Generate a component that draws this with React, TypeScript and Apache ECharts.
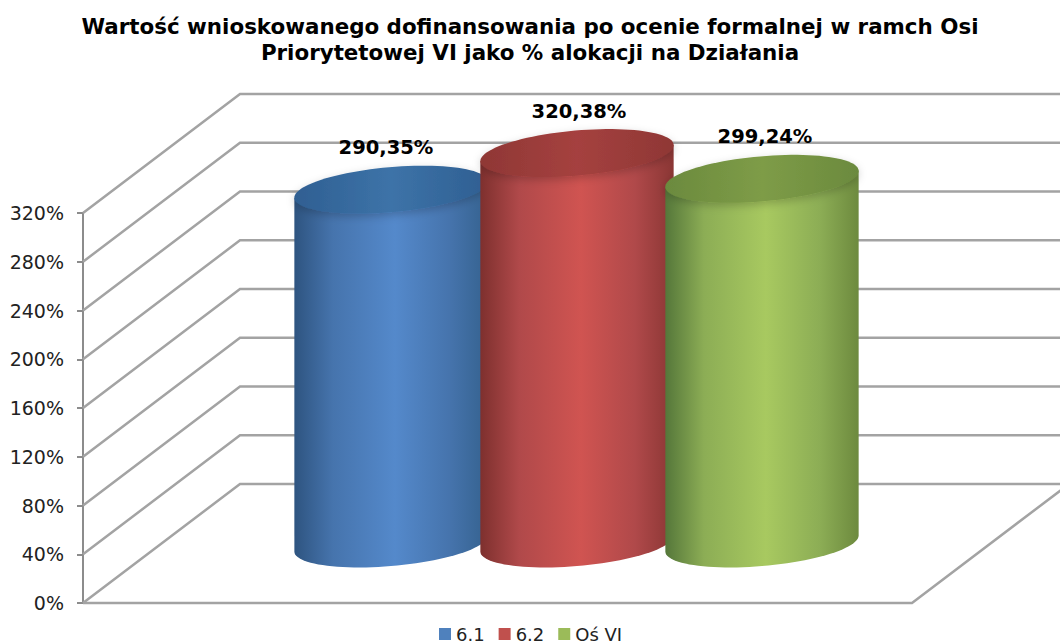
import React, { useEffect, useRef } from "react";
import * as echarts from "echarts";

const titleLines = [
  "Wartość wnioskowanego dofinansowania po ocenie formalnej w ramch Osi",
  "Priorytetowej VI jako % alokacji na Działania",
];
const category = ["Działania"];
const seriesNames = ["6.1", "6.2", "Oś VI"];
const values61 = [290.35];
const values62 = [320.38];
const valuesVI = [299.24];
const yTicks = [0, 40, 80, 120, 160, 200, 240, 280, 320];

const DEPTH_X = 157;
const DEPTH_Y = 119;
const FONT = "'DejaVu Sans', Verdana, sans-serif";
const LINE = "#a3a3a3";

const RX = 97;
const RY = 22.5;
const TILT = (-5 * Math.PI) / 180;

const palette = [
  { flat: "#4f81bd", edgeL: "#2e5480", mid: "#4674ad", hi: "#5489cb", edgeR: "#35628f", capA: "#2f5f92", capB: "#3d73a8" },
  { flat: "#c0504d", edgeL: "#7e302e", mid: "#b0494a", hi: "#d05451", edgeR: "#8a3634", capA: "#8f3735", capB: "#a5413f" },
  { flat: "#9bbb59", edgeL: "#55773a", mid: "#8cad55", hi: "#a8c960", edgeR: "#6d8a3e", capA: "#6b8a3e", capB: "#7e9c47" },
];
const seriesOffsets = [-185, 1, 186];
const labelNudge = [-5, 2, 3];

// point on the tilted ellipse at parameter t, relative to its centre
function ellipsePoint(t: number): [number, number] {
  return [
    RX * Math.cos(t) * Math.cos(TILT) - RY * Math.sin(t) * Math.sin(TILT),
    RX * Math.cos(t) * Math.sin(TILT) + RY * Math.sin(t) * Math.cos(TILT),
  ];
}
// parameter of the right-most point
const T_RIGHT = Math.atan2(-RY * Math.sin(TILT), RX * Math.cos(TILT));

function cylinderItem(index: number) {
  const c = palette[index];
  return (_params: any, api: any) => {
    const val = api.value(1);
    const top = api.coord([api.value(0), val]);
    const base = api.coord([api.value(0), 0]);
    const cx = top[0] + DEPTH_X / 2 + seriesOffsets[index];
    const topY = top[1] - DEPTH_Y / 2;
    const botY = base[1] - DEPTH_Y / 2;
    const capPts: number[][] = [];
    const STEPS = 96;
    for (let i = 0; i < STEPS; i++) {
      const p = ellipsePoint((i / STEPS) * Math.PI * 2);
      capPts.push([cx + p[0], topY + p[1]]);
    }
    // body: lower half of the base ellipse (right-most to left-most via the bottom), then up
    const bodyPts: number[][] = [];
    for (let i = 0; i <= STEPS / 2; i++) {
      const p = ellipsePoint(T_RIGHT + (i / (STEPS / 2)) * Math.PI);
      bodyPts.push([cx + p[0], botY + p[1]]);
    }
    const left = ellipsePoint(T_RIGHT + Math.PI);
    const right = ellipsePoint(T_RIGHT);
    bodyPts.push([cx + left[0], topY + left[1]]);
    bodyPts.push([cx + right[0], topY + right[1]]);
    const bodyFill = new echarts.graphic.LinearGradient(0, 0, 1, 0, [
      { offset: 0, color: c.edgeL },
      { offset: 0.2, color: c.mid },
      { offset: 0.52, color: c.hi },
      { offset: 0.8, color: c.mid },
      { offset: 1, color: c.edgeR },
    ]);
    const capFill = new echarts.graphic.LinearGradient(0, 0, 1, 0, [
      { offset: 0, color: c.capA },
      { offset: 0.5, color: c.capB },
      { offset: 1, color: c.capA },
    ]);
    return {
      type: "group",
      children: [
        { type: "polygon", shape: { points: bodyPts }, style: { fill: bodyFill } },
        {
          type: "polygon",
          shape: { points: capPts },
          style: { fill: capFill, shadowBlur: 8, shadowColor: "rgba(0,0,0,0.2)", shadowOffsetY: 3 },
        },
        {
          type: "text",
          x: cx + labelNudge[index],
          y: topY - 42,
          style: {
            text: api.value(1).toFixed(2).replace(".", ",") + "%",
            font: `bold 19.5px ${FONT}`,
            fill: "#000",
            textAlign: "center",
            textVerticalAlign: "middle",
          },
        },
      ],
    };
  };
}

function wallItem(params: any, api: any) {
  const v = api.value(0);
  const y = api.coord([0, v])[1];
  const g = params.coordSys;
  const stroke = { stroke: LINE, lineWidth: 2.5, fill: "none" };
  const children: any[] = [
    {
      type: "polyline",
      shape: {
        points: [
          [g.x, y],
          [g.x + DEPTH_X, y - DEPTH_Y],
          [g.x + g.width + DEPTH_X, y - DEPTH_Y],
        ],
      },
      style: stroke,
    },
  ];
  if (v === 0) {
    children.push({
      type: "polyline",
      shape: {
        points: [
          [g.x, y],
          [g.x + g.width, y],
          [g.x + g.width + DEPTH_X, y - DEPTH_Y],
        ],
      },
      style: stroke,
    });
  }
  return { type: "group", children };
}

export default function App() {
  const ref = useRef<HTMLDivElement>(null);
  useEffect(() => {
    document.body.style.margin = "0";
    const chart = echarts.init(ref.current!, null, { renderer: "svg" });
    const valueSets = [values61, values62, valuesVI];
    chart.setOption({
      animation: false,
      backgroundColor: "#ffffff",
      title: {
        text: titleLines.join("\n"),
        left: 525,
        top: 8,
        textAlign: "center",
        textStyle: { fontFamily: FONT, fontWeight: "bold", fontSize: 21.4, lineHeight: 26, color: "#000" },
      },
      legend: {
        data: seriesNames,
        left: 434,
        top: 620,
        icon: "rect",
        itemWidth: 12,
        itemHeight: 12,
        itemGap: 14,
        textStyle: { fontFamily: FONT, fontSize: 18, color: "#222" },
      },
      grid: { left: 83, right: 148, top: 213, bottom: 40 },
      xAxis: {
        type: "category",
        data: category,
        axisLine: { show: false },
        axisTick: { show: false },
        axisLabel: { show: false },
      },
      yAxis: {
        type: "value",
        min: 0,
        max: 320,
        interval: 40,
        splitLine: { show: false },
        axisLine: { show: true, lineStyle: { color: "#8c8c8c", width: 2 } },
        axisTick: { show: true, length: 6, lineStyle: { color: "#8c8c8c", width: 2 } },
        axisLabel: {
          formatter: "{value}%",
          margin: 19,
          fontFamily: FONT,
          fontSize: 19,
          color: "#222",
        },
      },
      series: [
        {
          type: "custom",
          name: "walls",
          data: yTicks.map((t) => [t]),
          encode: { y: 0 },
          renderItem: wallItem,
          silent: true,
          z: 1,
        },
        ...seriesNames.map((name, i) => ({
          type: "custom",
          name,
          data: valueSets[i].map((v, k) => [k, v]),
          encode: { x: 0, y: 1 },
          itemStyle: { color: palette[i].flat },
          renderItem: cylinderItem(i),
          z: 2 + i,
        })),
      ],
    });
    return () => chart.dispose();
  }, []);
  return <div ref={ref} style={{ width: 1060, height: 643 }} />;
}
